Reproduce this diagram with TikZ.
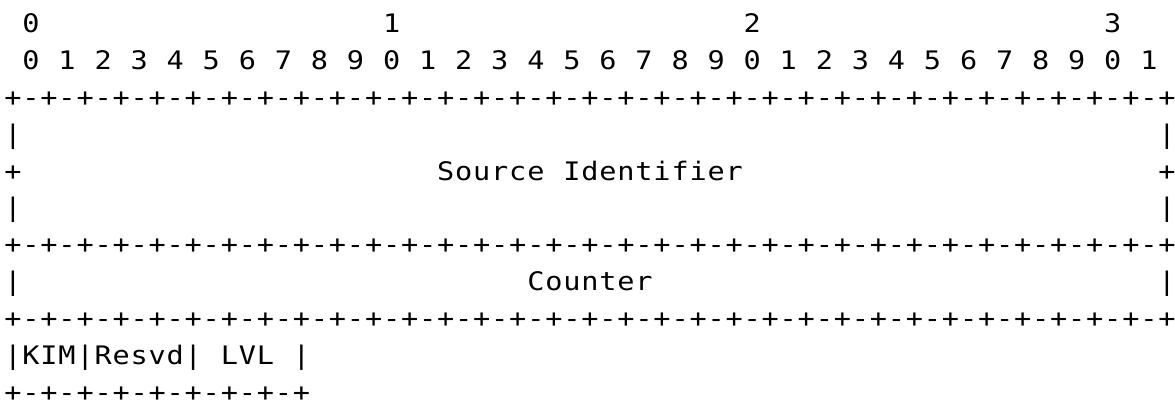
\documentclass[tikz,border=0pt]{standalone}
\usepackage{fontspec}
\newfontfamily\monofnt[FakeStretch=1.12]{DejaVu Sans Mono}
\newcommand\colx[1]{13+18.03*(#1)}
\newcommand\rowy[1]{33+36.8*(#1)}
\newcommand\putrow[3]{%
  \foreach \ch [count=\k from 0] in {#3} {%
    \pgfmathtruncatemacro\cc{#2+\k}%
    \node[ch] (t-#1-\cc) at ({\colx{\cc}},{\rowy{#1}}) {\ch};}}
\newcommand\border[2]{% row, last col
  \foreach \c in {0,2,...,#2} {\node[ch] (p-#1-\c) at ({\colx{\c}},{\rowy{#1}}) {+};}
  \pgfmathtruncatemacro\lastodd{#2-1}%
  \foreach \c in {1,3,...,\lastodd} {\node[ch] (m-#1-\c) at ({\colx{\c}},{\rowy{#1}}) {-};}}
\begin{document}
\begin{tikzpicture}[x=1pt,y=-1pt,
  ch/.style={anchor=base,inner sep=0pt,outer sep=0pt,
    font=\monofnt\fontsize{25.5}{30}\selectfont,text=black}]
\useasboundingbox[fill=white] (0,0) rectangle (1175,406);
% row 0: tens ruler
\node[ch] (tens0) at ({\colx{1}},{\rowy{0}}) {0};
\node[ch] (tens1) at ({\colx{21}},{\rowy{0}}) {1};
\node[ch] (tens2) at ({\colx{41}},{\rowy{0}}) {2};
\node[ch] (tens3) at ({\colx{61}},{\rowy{0}}) {3};
% row 1: units ruler
\foreach \k in {0,...,31} {
  \pgfmathtruncatemacro\d{mod(\k,10)}
  \pgfmathtruncatemacro\cc{2*\k+1}
  \node[ch] (u\k) at ({\colx{\cc}},{\rowy{1}}) {\d};}
% row 2
\border{2}{64}
% rows 3-5
\node[ch] (l3) at ({\colx{0}},{\rowy{3}}) {|};
\node[ch] (r3) at ({\colx{64}},{\rowy{3}}) {|};
\node[ch] (l4) at ({\colx{0}},{\rowy{4}}) {+};
\node[ch] (r4) at ({\colx{64}},{\rowy{4}}) {+};
\putrow{4}{24}{S,o,u,r,c,e}
\putrow{4}{31}{I,d,e,n,t,i,f,i,e,r}
\node[ch] (l5) at ({\colx{0}},{\rowy{5}}) {|};
\node[ch] (r5) at ({\colx{64}},{\rowy{5}}) {|};
% row 6
\border{6}{64}
% row 7
\node[ch] (l7) at ({\colx{0}},{\rowy{7}}) {|};
\node[ch] (r7) at ({\colx{64}},{\rowy{7}}) {|};
\putrow{7}{29}{C,o,u,n,t,e,r}
% row 8
\border{8}{64}
% row 9
\putrow{9}{0}{|,K,I,M,|,R,e,s,v,d,|}
\putrow{9}{12}{L,V,L}
\node[ch] (r9) at ({\colx{16}},{\rowy{9}}) {|};
% row 10
\border{10}{16}
\end{tikzpicture}
\end{document}
